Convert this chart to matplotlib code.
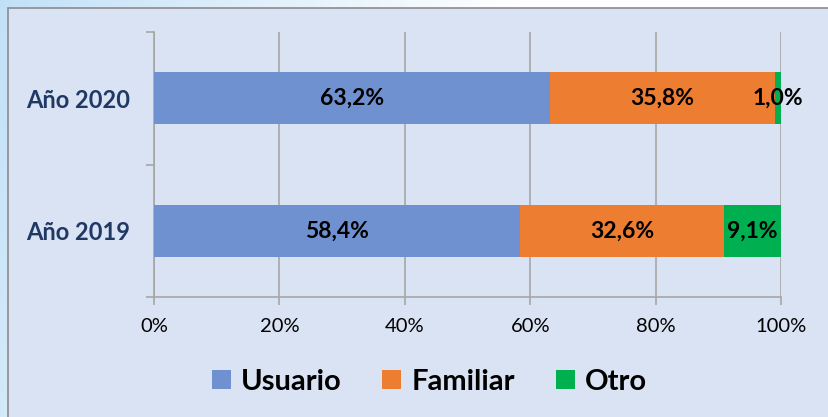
import numpy as np
import matplotlib
matplotlib.use('Agg')
import matplotlib.pyplot as plt
from matplotlib.patches import Rectangle

# data
years = ['Año 2019', 'Año 2020']
usuario = [58.4, 63.2]
familiar = [32.6, 35.8]
otro = [9.1, 1.0]
series_names = ['Usuario', 'Familiar', 'Otro']
colors = ['#6f91d0', '#ed7d31', '#00b050']
x_ticks = [0, 20, 40, 60, 80, 100]

plt.rcParams['font.family'] = ['Lato', 'DejaVu Sans']

fig = plt.figure(figsize=(8.29, 4.17), dpi=100)

# light blue gradient behind the panel
bg = fig.add_axes([0, 0, 1, 1], zorder=-10)
gx = np.linspace(0, 1, 200)
gy = np.linspace(0, 1, 100)
GX, GY = np.meshgrid(gx, gy)
t = np.clip(GX * 1.6 + GY * 0.3, 0, 1)
c0 = np.array([0.76, 0.88, 0.97])
c1 = np.array([1.0, 1.0, 1.0])
img = c0[None, None, :] * (1 - t[..., None]) + c1[None, None, :] * t[..., None]
bg.imshow(img, extent=[0, 1, 0, 1], aspect='auto', origin='upper')
bg.set_xlim(0, 1)
bg.set_ylim(0, 1)
bg.axis('off')
bg.add_patch(Rectangle((8 / 829, -0.1), 1.2, 1.1 - 8 / 417,
                       facecolor='#dae3f3', edgecolor='#8c8c8c', lw=1.2))

ax = fig.add_axes([154 / 829, 1 - 297 / 417, 627 / 829, 265 / 417])
ax.patch.set_alpha(0)

data = np.array([usuario, familiar, otro])
pct = data / data.sum(axis=0) * 100
ypos = np.arange(len(years))
left = np.zeros(len(years))
for i in range(3):
    ax.barh(ypos, pct[i], left=left, height=0.39, color=colors[i],
            label=series_names[i], zorder=3)
    for j in range(len(years)):
        txt = f"{data[i][j]:.1f}".replace('.', ',') + '%'
        ax.text(left[j] + pct[i][j] / 2, ypos[j], txt, ha='center', va='center',
                fontsize=16.5, fontweight='bold', color='black', zorder=4)
    left += pct[i]

ax.set_xlim(0, 100)
ax.set_ylim(-0.5, 1.5)
ax.set_xticks(x_ticks)
ax.set_xticklabels([f"{v}%" for v in x_ticks], fontsize=14.5)
ax.xaxis.grid(True, color='#a6a6a6', lw=1.2, zorder=0)
ax.set_yticks([-0.5, 0.5, 1.5])
ax.set_yticklabels([])
ax.set_yticks(ypos, minor=True)
ax.set_yticklabels(years, minor=True, fontsize=17, fontweight='bold', color='#1f3864')
ax.tick_params(axis='y', which='minor', length=0, pad=17)
ax.tick_params(axis='y', which='major', length=6, color='#a6a6a6', width=1.2)
ax.tick_params(axis='x', length=6, color='#a6a6a6', width=1.2, pad=9)
for s in ['top', 'right']:
    ax.spines[s].set_visible(False)
for s in ['left', 'bottom']:
    ax.spines[s].set_color('#a6a6a6')
    ax.spines[s].set_linewidth(1.2)

fig.legend(loc='center', bbox_to_anchor=(0.518, 0.084), ncol=3, frameon=False,
           prop={'size': 21, 'weight': 'bold'}, handlelength=0.65, handleheight=0.65,
           handletextpad=0.35, columnspacing=1.4)

plt.savefig('out.png', dpi=100)
